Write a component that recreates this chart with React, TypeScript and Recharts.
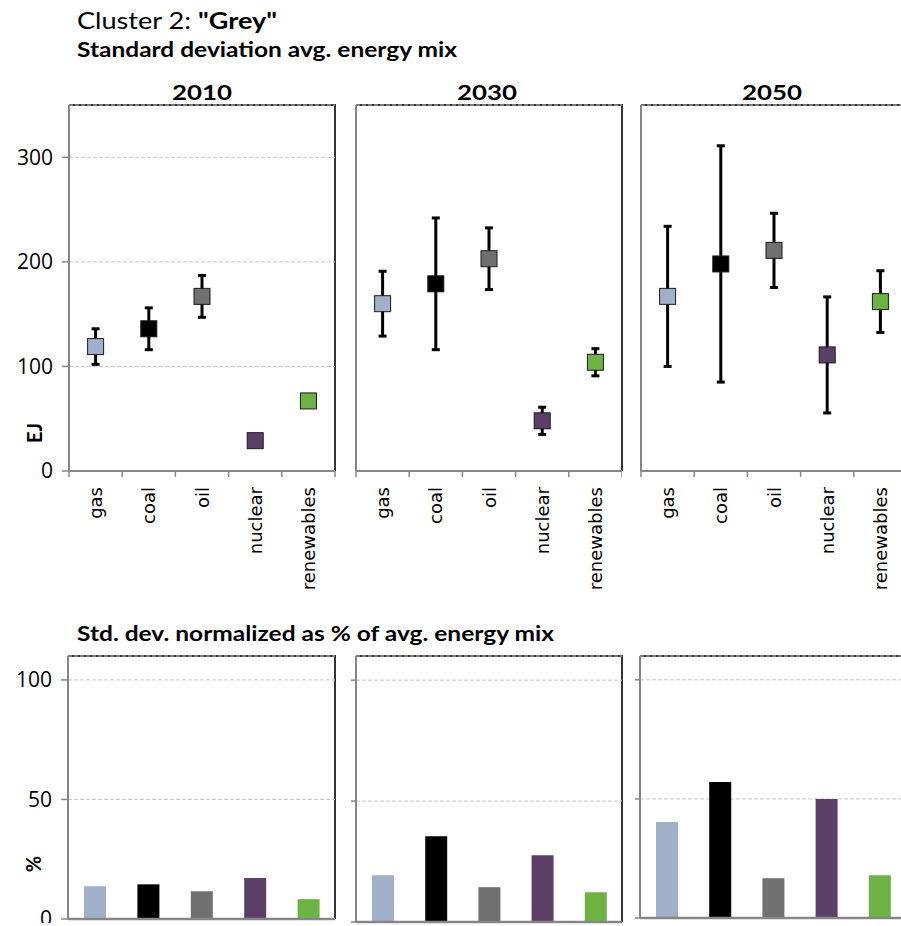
import React from 'react';
import {
  ComposedChart,
  Scatter,
  ErrorBar,
  BarChart,
  Bar,
  Cell,
  XAxis,
  YAxis,
  CartesianGrid,
} from 'recharts';

const categories = ['gas', 'coal', 'oil', 'nuclear', 'renewables'];
const colors = ['#9fb0c8', '#000000', '#707070', '#5c3f66', '#6db344'];
const years = ['2010', '2030', '2050'];

// average energy mix (EJ) and its standard deviation
const avg2010 = [119, 136, 167, 29, 67];
const sd2010 = [17, 20, 20, 5, 5.5];
const avg2030 = [160, 179, 203, 48, 104];
const sd2030 = [31, 63, 29.5, 13, 13];
const avg2050 = [167, 198, 211, 111, 162];
const sd2050 = [67, 113, 35.5, 55.5, 29.5];

// std. dev. as % of the average
const pct2010 = [13.7, 14.5, 11.6, 17.1, 8.3];
const pct2030 = [19.3, 35.5, 14.4, 27.6, 12.3];
const pct2050 = [40.3, 57.1, 16.7, 50, 18];

const ejTicks = [0, 100, 200, 300];
const pctTicks = [0, 50, 100];

const avgs = [avg2010, avg2030, avg2050];
const sds = [sd2010, sd2030, sd2050];
const pcts = [pct2010, pct2030, pct2050];

const FONT = 'Lato, "Open Sans", sans-serif';
const TICK_FONT = '"Open Sans", Lato, sans-serif';
const AXIS = '#868686';
const GRID = '#c4c4c4';

// layout of each panel
const topPanels = [
  { left: 0, yw: 69, width: 340, right: 5 },
  { left: 350, yw: 6, width: 272, right: 0 },
  { left: 635, yw: 6, width: 272, right: 0 },
];
const TOP_Y = 100;
const TOP_PLOT_H = 366;
const TOP_AXIS_H = 129;

const botPanels = [
  { left: 0, yw: 68, width: 340, right: 5, plotH: 263 },
  { left: 350, yw: 6, width: 272, right: 0, plotH: 266 },
  { left: 634, yw: 6, width: 272, right: 0, plotH: 262 },
];
const BOT_Y = 651;

const Square = (props: any) => {
  const { cx, cy, payload } = props;
  if (cx == null || cy == null) return null;
  return (
    <rect
      x={cx - 8}
      y={cy - 8}
      width={16}
      height={16}
      fill={payload.fill}
      stroke="#1a1a1a"
      strokeWidth={1}
    />
  );
};

const CatTick = (props: any) => {
  const { x, y, payload, index, band } = props;
  const ly = y + 16;
  return (
    <g>
      <line x1={x - band / 2} x2={x - band / 2} y1={y} y2={y + 6} stroke={AXIS} strokeWidth={1.5} />
      {index === categories.length - 1 && (
        <line x1={x + band / 2} x2={x + band / 2} y1={y} y2={y + 6} stroke={AXIS} strokeWidth={1.5} />
      )}
      <text
        x={x}
        y={ly}
        transform={`rotate(-90 ${x} ${ly})`}
        textAnchor="end"
        dominantBaseline="central"
        fontFamily="DejaVu Sans"
        fontSize={18}
        fill="#000"
      >
        {payload.value}
      </text>
    </g>
  );
};

const Frame = ({ left, top, width, height }: any) => (
  <div
    style={{
      position: 'absolute',
      left,
      top: top - 1,
      width: width + 1,
      height: height + 1,
      borderTop: '2px solid #333',
      borderRight: '2px solid #333',
      boxSizing: 'border-box',
    }}
  />
);

function TopPanel({ idx }: { idx: number }) {
  const p = topPanels[idx];
  const plotW = p.width - p.yw - p.right;
  const band = plotW / categories.length;
  const data = categories.map((name, i) => ({
    name,
    value: avgs[idx][i],
    err: sds[idx][i],
    fill: colors[i],
  }));
  return (
    <>
      <Frame left={p.left + p.yw} top={TOP_Y + 5} width={plotW} height={TOP_PLOT_H} />
      <div style={{ position: 'absolute', left: p.left, top: TOP_Y }}>
        <ComposedChart
          width={p.width}
          height={5 + TOP_PLOT_H + TOP_AXIS_H}
          data={data}
          margin={{ top: 5, right: p.right, bottom: 0, left: 0 }}
        >
          <CartesianGrid vertical={false} stroke={GRID} strokeDasharray="4 2" />
          <XAxis
            dataKey="name"
            type="category"
            scale="point"
            padding={{ left: band / 2, right: band / 2 }}
            height={TOP_AXIS_H}
            interval={0}
            tickLine={false}
            tickSize={0}
            tickMargin={0}
            axisLine={{ stroke: AXIS, strokeWidth: 2 }}
            tick={(t: any) => <CatTick {...t} band={band} />}
          />
          <YAxis
            type="number"
            domain={[0, 350]}
            ticks={ejTicks}
            width={p.yw}
            interval={0}
            axisLine={{ stroke: AXIS, strokeWidth: 2 }}
            tickLine={idx === 0 ? { stroke: AXIS, strokeWidth: 1.5 } : false}
            tickSize={7}
            tickMargin={9}
            tick={idx === 0 ? { fontSize: 21, fontFamily: TICK_FONT, fill: '#000' } : false}
          />
          <Scatter dataKey="value" isAnimationActive={false} shape={(s: any) => <Square {...s} />}>
            <ErrorBar dataKey="err" direction="y" width={4} stroke="#000" strokeWidth={3} />
          </Scatter>
        </ComposedChart>
      </div>
    </>
  );
}

function BottomPanel({ idx }: { idx: number }) {
  const p = botPanels[idx];
  const plotW = p.width - p.yw - p.right;
  const data = categories.map((name, i) => ({ name, value: pcts[idx][i] }));
  return (
    <>
      <Frame left={p.left + p.yw} top={BOT_Y + 5} width={plotW} height={p.plotH} />
      <div style={{ position: 'absolute', left: p.left, top: BOT_Y }}>
        <BarChart
          width={p.width}
          height={5 + p.plotH + 4}
          data={data}
          margin={{ top: 5, right: p.right, bottom: 0, left: 0 }}
        >
          <CartesianGrid vertical={false} stroke={GRID} strokeDasharray="4 2" />
          <XAxis
            dataKey="name"
            height={4}
            tick={false}
            tickLine={false}
            axisLine={{ stroke: AXIS, strokeWidth: 2.5 }}
          />
          <YAxis
            type="number"
            domain={[0, 110]}
            ticks={pctTicks}
            width={p.yw}
            interval={0}
            axisLine={{ stroke: AXIS, strokeWidth: 2 }}
            tickLine={{ stroke: AXIS, strokeWidth: 1.5 }}
            tickSize={idx === 0 ? 7 : 5}
            tickMargin={9}
            tickFormatter={idx === 0 ? undefined : () => ''}
            tick={{ fontSize: 21, fontFamily: TICK_FONT, fill: '#000' }}
          />
          <Bar dataKey="value" barSize={22} isAnimationActive={false}>
            {data.map((d, i) => (
              <Cell key={d.name} fill={colors[i]} />
            ))}
          </Bar>
        </BarChart>
      </div>
    </>
  );
}

export default function App() {
  const yearX = [202, 487, 772];
  return (
    <div
      style={{
        position: 'absolute',
        left: 0,
        top: 0,
        width: 901,
        height: 926,
        overflow: 'hidden',
        background: '#fff',
        fontFamily: FONT,
      }}
    >
      <svg width={901} height={926} style={{ position: 'absolute', left: 0, top: 0 }}>
        <text
          x={77}
          y={29}
          fontFamily={FONT}
          fontSize={23}
          fill="#000"
          textLength={200}
          lengthAdjust="spacingAndGlyphs"
        >
          Cluster 2: <tspan fontWeight="bold">"Grey"</tspan>
        </text>
        <text
          x={77}
          y={57}
          fontFamily={FONT}
          fontSize={20}
          fontWeight="bold"
          fill="#000"
          textLength={380}
          lengthAdjust="spacingAndGlyphs"
        >
          Standard deviation avg. energy mix
        </text>
        {years.map((yr, i) => (
          <text
            key={yr}
            x={yearX[i]}
            y={100}
            textAnchor="middle"
            fontFamily={FONT}
            fontSize={20}
            fontWeight="bold"
            fill="#000"
            textLength={60}
            lengthAdjust="spacingAndGlyphs"
          >
            {yr}
          </text>
        ))}
        <text
          x={34}
          y={433}
          transform="rotate(-90 34 433)"
          textAnchor="middle"
          dominantBaseline="central"
          fontFamily={FONT}
          fontSize={20}
          fontWeight="bold"
          fill="#000"
        >
          EJ
        </text>
        <text
          x={77}
          y={641}
          fontFamily={FONT}
          fontSize={20}
          fontWeight="bold"
          fill="#000"
          textLength={477}
          lengthAdjust="spacingAndGlyphs"
        >
          Std. dev. normalized as % of avg. energy mix
        </text>
        <text
          x={33}
          y={864}
          transform="rotate(-90 33 864)"
          textAnchor="middle"
          dominantBaseline="central"
          fontFamily={FONT}
          fontSize={20}
          fontWeight="bold"
          fill="#000"
        >
          %
        </text>
      </svg>
      {years.map((yr, i) => (
        <TopPanel key={'t' + yr} idx={i} />
      ))}
      {years.map((yr, i) => (
        <BottomPanel key={'b' + yr} idx={i} />
      ))}
    </div>
  );
}
